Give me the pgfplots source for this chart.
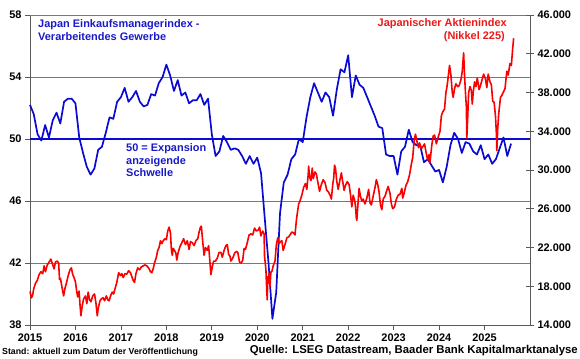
\documentclass[border=0pt]{standalone}
\usepackage{pgfplots}
\pgfplotsset{compat=1.18}
\usepackage{fontspec}
\setmainfont{Liberation Sans}
\definecolor{pmiblue}{RGB}{10,10,210}
\definecolor{txtblue}{RGB}{25,25,200}
\definecolor{nkred}{RGB}{250,0,0}
\definecolor{txtred}{RGB}{235,25,25}
\definecolor{gridgray}{RGB}{120,120,120}
\definecolor{axgray}{RGB}{90,90,90}
\begin{document}
\begin{tikzpicture}
\path[use as bounding box] (-30bp,-34bp) rectangle (550bp,325bp);
\begin{axis}[
  at={(0,0)}, anchor=south west,
  scale only axis, width=500bp, height=310bp,
  xmin=2015, xmax=2026, ymin=38, ymax=58,
  xtick={2015,2016,...,2025},
  ytick={38,42,46,50,54,58},
  xticklabel style={/pgf/number format/1000 sep=},
  /pgf/number format/assume math mode=true,
  tick label style={font=\fontsize{11}{13}\selectfont\bfseries},
  axis x line*=bottom, axis y line*=left,
  axis line style={axgray, line width=0.8bp},
  tick style={axgray, line width=0.8bp},
  tick align=outside, major tick length=5bp,
  ymajorgrids, grid style={gridgray, line width=0.8bp},
  clip=false,
]
\draw[gridgray, line width=0.8bp] (rel axis cs:0,1) -- (rel axis cs:1,1);
\addplot[pmiblue, line width=1.8bp] coordinates {(2015,50) (2026,50)};
\addplot[pmiblue, line width=1.7bp, line join=round] coordinates {
(2015.000,52.2)(2015.083,51.6)(2015.167,50.3)(2015.250,49.9)(2015.333,50.9)(2015.417,50.1)
(2015.500,51.2)(2015.583,51.7)(2015.667,51.0)(2015.750,52.4)(2015.833,52.6)(2015.917,52.6)
(2016.000,52.3)(2016.083,50.1)(2016.167,49.1)(2016.250,48.2)(2016.333,47.7)(2016.417,48.1)
(2016.500,49.3)(2016.583,49.5)(2016.667,50.4)(2016.750,51.4)(2016.833,51.3)(2016.917,52.4)
(2017.000,52.7)(2017.083,53.3)(2017.167,52.4)(2017.250,52.7)(2017.333,53.1)(2017.417,52.4)
(2017.500,52.1)(2017.583,52.2)(2017.667,52.9)(2017.750,52.8)(2017.833,53.6)(2017.917,54.0)
(2018.000,54.8)(2018.083,54.1)(2018.167,53.1)(2018.250,53.8)(2018.333,52.8)(2018.417,53.0)
(2018.500,52.3)(2018.583,52.5)(2018.667,52.5)(2018.750,52.9)(2018.833,52.2)(2018.917,52.6)
(2019.000,50.3)(2019.083,48.9)(2019.167,49.2)(2019.250,50.2)(2019.333,49.8)(2019.417,49.3)
(2019.500,49.4)(2019.583,49.3)(2019.667,48.9)(2019.750,48.4)(2019.833,48.9)(2019.917,48.4)
(2020.000,48.8)(2020.083,47.8)(2020.167,44.8)(2020.250,41.9)(2020.333,38.4)(2020.417,40.1)
(2020.500,45.2)(2020.583,47.2)(2020.667,47.7)(2020.750,48.7)(2020.833,49.0)(2020.917,50.0)
(2021.000,49.8)(2021.083,51.4)(2021.167,52.7)(2021.250,53.6)(2021.333,53.0)(2021.417,52.4)
(2021.500,53.0)(2021.583,52.7)(2021.667,51.5)(2021.750,53.2)(2021.833,54.5)(2021.917,54.3)
(2022.000,55.4)(2022.083,52.7)(2022.167,54.1)(2022.250,53.5)(2022.333,53.3)(2022.417,52.7)
(2022.500,52.1)(2022.583,51.5)(2022.667,50.8)(2022.750,50.7)(2022.833,49.0)(2022.917,48.9)
(2023.000,48.9)(2023.083,47.7)(2023.167,49.2)(2023.250,49.5)(2023.333,50.6)(2023.417,49.8)
(2023.500,49.6)(2023.583,49.6)(2023.667,48.5)(2023.750,48.7)(2023.833,48.3)(2023.917,47.9)
(2024.000,48.0)(2024.083,47.2)(2024.167,48.2)(2024.250,49.6)(2024.333,50.4)(2024.417,50.0)
(2024.500,49.1)(2024.583,49.8)(2024.667,49.7)(2024.750,49.2)(2024.833,49.0)(2024.917,49.6)
(2025.000,48.7)(2025.083,49.0)(2025.167,48.4)(2025.250,48.7)(2025.333,49.4)(2025.417,50.1)
(2025.500,48.9)(2025.583,49.7)
};
\end{axis}
\begin{axis}[
  at={(0,0)}, anchor=south west,
  scale only axis, width=500bp, height=310bp,
  xmin=2015, xmax=2026, ymin=14000, ymax=46000,
  axis x line=none,
  axis y line*=right,
  ytick={14000,18000,...,46000},
  yticklabel style={/pgf/number format/.cd, fixed, 1000 sep={.}, min exponent for 1000 sep=4},
  scaled y ticks=false,
  /pgf/number format/assume math mode=true,
  tick label style={font=\fontsize{11}{13}\selectfont\bfseries},
  axis line style={axgray, line width=0.8bp},
  tick style={axgray, line width=0.8bp},
  tick align=center, major tick length=8bp,
  clip=false,
]
\addplot[nkred, line width=1.6bp, line join=round] coordinates {
(2015.00,17450)(2015.03,16800)(2015.06,17100)(2015.08,17700)(2015.12,18300)(2015.16,18600)
(2015.20,19200)(2015.24,19500)(2015.28,19300)(2015.31,20100)(2015.34,19500)(2015.38,20200)
(2015.42,20500)(2015.46,20800)(2015.50,20200)(2015.53,19800)(2015.56,20500)(2015.60,20600)
(2015.63,20400)(2015.65,18700)(2015.67,18800)(2015.70,18000)(2015.74,17000)(2015.77,17800)
(2015.80,18300)(2015.84,19100)(2015.88,19700)(2015.91,19900)(2015.94,19200)(2015.97,18900)
(2016.00,18450)(2016.03,17400)(2016.05,16900)(2016.08,17500)(2016.10,16100)(2016.12,14950)
(2016.15,16000)(2016.18,16700)(2016.22,17000)(2016.25,16200)(2016.28,17400)(2016.31,16600)
(2016.34,16400)(2016.38,17000)(2016.42,17200)(2016.45,16300)(2016.48,14950)(2016.50,15700)
(2016.54,16500)(2016.57,16700)(2016.61,16800)(2016.64,16500)(2016.68,17000)(2016.71,16600)
(2016.74,16500)(2016.78,17100)(2016.81,17400)(2016.84,17200)(2016.88,17900)(2016.91,18400)
(2016.95,19400)(2016.99,19100)
(2017.02,19300)(2017.05,18900)(2017.09,19300)(2017.13,19250)(2017.17,19600)(2017.21,19400)
(2017.24,19000)(2017.27,18600)(2017.30,18400)(2017.33,19300)(2017.37,19900)(2017.41,19700)
(2017.45,20000)(2017.49,20100)(2017.53,20200)(2017.57,20100)(2017.61,19900)(2017.65,19500)
(2017.68,19400)(2017.71,19800)(2017.74,20400)(2017.78,21000)(2017.81,21700)(2017.84,22000)
(2017.87,22700)(2017.90,22400)(2017.93,22700)(2017.97,22900)
(2018.00,22800)(2018.03,23700)(2018.06,24100)(2018.09,23500)(2018.11,21800)(2018.13,21200)
(2018.15,21900)(2018.18,21700)(2018.21,21400)(2018.23,20700)(2018.26,21500)(2018.30,22100)
(2018.34,22500)(2018.38,22900)(2018.42,22300)(2018.46,22700)(2018.50,21800)(2018.53,22600)
(2018.57,22500)(2018.61,22200)(2018.65,22700)(2018.69,22900)(2018.72,23600)(2018.75,24100)
(2018.77,24200)(2018.80,22600)(2018.83,21200)(2018.86,22000)(2018.90,21700)(2018.93,22200)
(2018.96,20400)(2018.98,19200)
(2019.01,20000)(2019.04,20600)(2019.08,20600)(2019.12,20900)(2019.16,21500)(2019.20,21500)
(2019.23,21000)(2019.27,21700)(2019.31,22200)(2019.34,22300)(2019.37,21300)(2019.40,21100)
(2019.42,20600)(2019.46,20900)(2019.50,21400)(2019.54,21600)(2019.57,21500)(2019.61,20500)
(2019.65,20400)(2019.68,20700)(2019.71,21900)(2019.74,21800)(2019.78,22500)(2019.82,23300)
(2019.86,23400)(2019.90,23300)(2019.94,24000)(2019.98,23700)
(2020.02,23800)(2020.05,24100)(2020.08,23200)(2020.12,23700)(2020.15,23400)(2020.16,21100)
(2020.19,19700)(2020.21,17400)(2020.22,16600)(2020.23,19000)(2020.24,18300)(2020.26,19300)
(2020.28,18000)(2020.30,19500)(2020.32,19500)(2020.35,20100)(2020.39,20600)(2020.42,22300)
(2020.45,23000)(2020.48,22400)(2020.51,22600)(2020.54,22700)(2020.57,21700)(2020.61,22300)
(2020.65,23000)(2020.69,23100)(2020.72,23300)(2020.76,23600)(2020.80,23500)(2020.83,23300)
(2020.86,24800)(2020.88,25500)(2020.91,26500)(2020.94,26800)(2020.98,27400)
(2021.02,28200)(2021.06,28600)(2021.09,28000)(2021.12,29500)(2021.13,30400)(2021.15,29300)
(2021.18,28900)(2021.21,30200)(2021.23,29100)(2021.27,29800)(2021.30,29600)(2021.33,28800)
(2021.37,27800)(2021.41,28500)(2021.45,29000)(2021.49,28700)(2021.53,27900)(2021.57,27700)
(2021.61,27300)(2021.63,27000)(2021.66,28500)(2021.68,29100)(2021.70,30500)(2021.72,30200)
(2021.75,28800)(2021.78,28000)(2021.82,29000)(2021.85,29700)(2021.88,28800)(2021.91,27900)
(2021.94,28400)(2021.98,28800)
(2022.02,28500)(2022.05,27500)(2022.08,26200)(2022.11,27400)(2022.14,26900)(2022.16,26300)
(2022.18,25000)(2022.19,24800)(2022.22,26800)(2022.24,28100)(2022.27,27300)(2022.30,26800)
(2022.33,27000)(2022.37,26500)(2022.41,27100)(2022.45,28000)(2022.48,26600)(2022.51,26400)
(2022.55,27300)(2022.59,28200)(2022.62,29000)(2022.65,28500)(2022.68,27700)(2022.71,26400)
(2022.74,25900)(2022.77,27000)(2022.81,27300)(2022.85,27900)(2022.88,28300)(2022.92,27600)
(2022.95,26500)(2022.98,26000)
(2023.02,26200)(2023.06,27000)(2023.10,27400)(2023.14,27500)(2023.18,28100)(2023.20,27100)
(2023.23,27600)(2023.27,28400)(2023.31,28800)(2023.35,29500)(2023.39,30600)(2023.42,31300)
(2023.45,33000)(2023.48,33700)(2023.52,32800)(2023.55,32300)(2023.57,32800)(2023.61,32200)
(2023.64,32400)(2023.68,32700)(2023.71,31900)(2023.75,31000)(2023.78,31600)(2023.80,30800)
(2023.84,32600)(2023.87,33500)(2023.90,33600)(2023.94,32700)(2023.98,33400)
(2024.02,34000)(2024.05,35600)(2024.08,36000)(2024.12,36300)(2024.15,38000)(2024.17,38500)
(2024.19,39200)(2024.21,40000)(2024.23,40800)(2024.26,39800)(2024.29,38000)(2024.31,37500)
(2024.34,38400)(2024.37,38900)(2024.41,38600)(2024.44,38700)(2024.48,39300)(2024.51,40200)
(2024.53,41500)(2024.54,42100)(2024.56,39800)(2024.58,38000)(2024.60,36500)(2024.61,33300)
(2024.63,35500)(2024.65,38000)(2024.68,38600)(2024.71,38200)(2024.73,36800)(2024.75,38000)
(2024.78,39100)(2024.81,38600)(2024.84,39500)(2024.88,38300)(2024.91,38700)(2024.95,39400)
(2024.98,39900)
(2025.02,39400)(2025.05,38500)(2025.08,39900)(2025.12,39100)(2025.15,38800)(2025.18,37100)
(2025.21,37000)(2025.24,35600)(2025.26,33800)(2025.27,32000)(2025.29,34300)(2025.31,35700)
(2025.35,37500)(2025.38,37700)(2025.42,38100)(2025.45,38400)(2025.49,40200)(2025.52,39800)
(2025.56,41000)(2025.59,40800)(2025.62,42600)(2025.64,43600)
};
\end{axis}
\begin{scope}[font=\fontsize{11}{13}\selectfont\bfseries]
\node[txtblue, anchor=base west, inner sep=0] at (8bp,297bp) {Japan Einkaufsmanagerindex -};
\node[txtblue, anchor=base west, inner sep=0] at (8bp,284.5bp) {Verarbeitendes Gewerbe};
\node[txtblue, anchor=base west, inner sep=0] at (96bp,173bp) {50 = Expansion};
\node[txtblue, anchor=base west, inner sep=0] at (96bp,160.5bp) {anzeigende};
\node[txtblue, anchor=base west, inner sep=0] at (96bp,148bp) {Schwelle};
\node[txtred, anchor=base east, inner sep=0] at (477bp,298bp) {Japanischer Aktienindex};
\node[txtred, anchor=base east, inner sep=0] at (475bp,285bp) {(Nikkel 225)};
\node[black, anchor=base east, inner sep=0, font=\fontsize{11.4}{13}\selectfont\bfseries] at (548bp,-28bp) {Quelle: LSEG Datastream, Baader Bank Kapitalmarktanalyse};
\end{scope}
\node[black, anchor=base west, inner sep=0, font=\fontsize{8.8}{10}\selectfont\bfseries] at (-28bp,-29.5bp) {Stand: aktuell zum Datum der Veröffentlichung};
\end{tikzpicture}
\end{document}
